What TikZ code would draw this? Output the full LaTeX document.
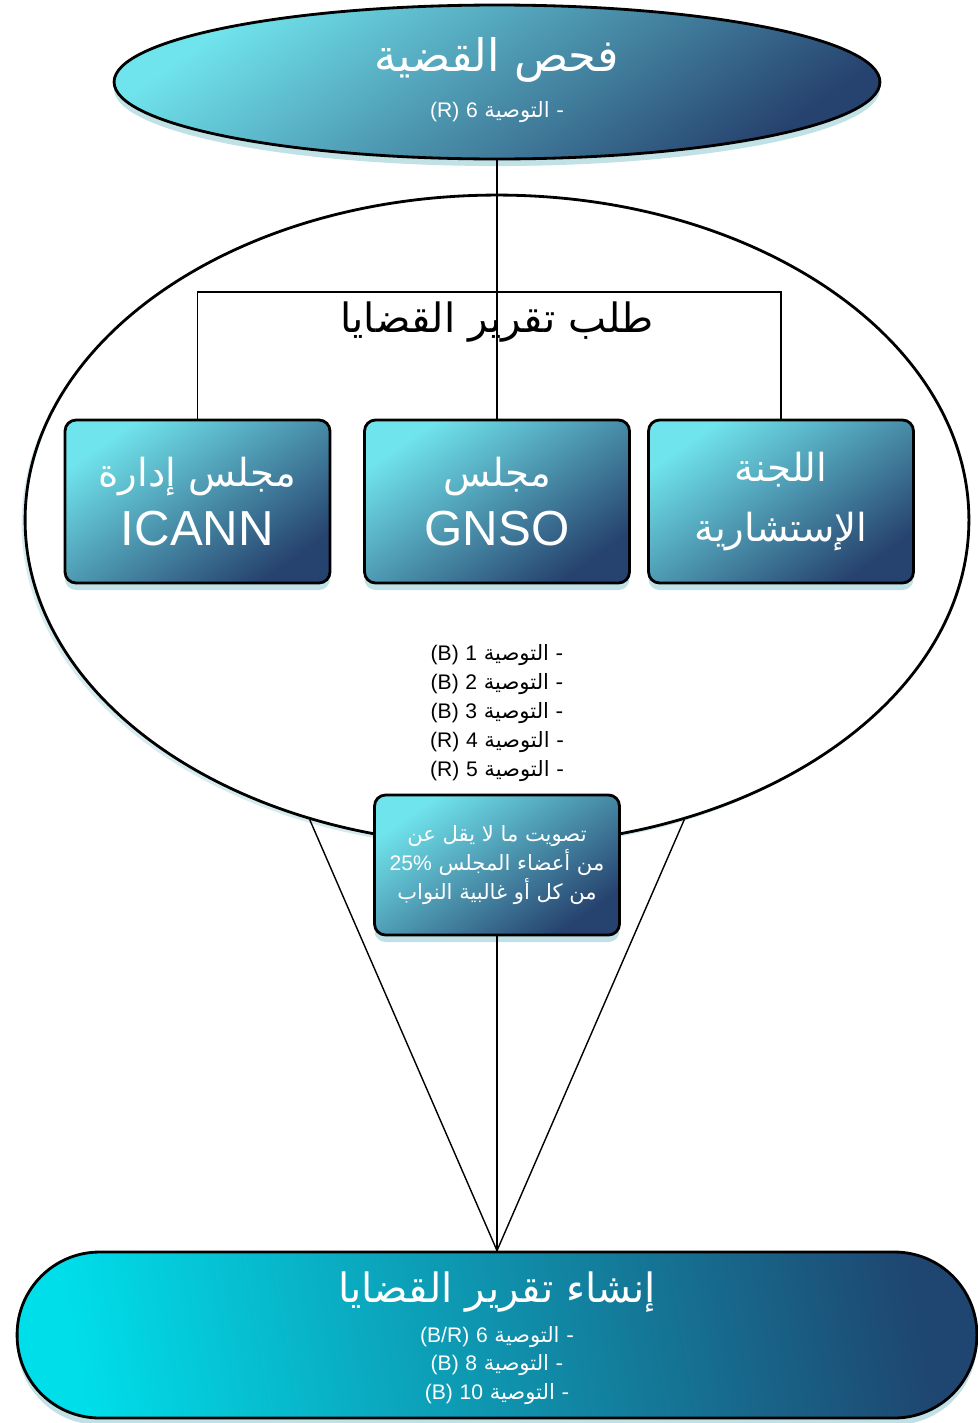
\documentclass[tikz,border=0pt]{standalone}
\usepackage{fontspec}
\setmainfont{Liberation Sans}
\newfontfamily\arabicfont[Script=Arabic]{DejaVu Sans}
\TeXXeTstate=1
\usetikzlibrary{shapes.geometric,shadows}

\definecolor{shapeLight}{RGB}{112,228,236}
\definecolor{shapeDark}{RGB}{38,66,110}
\definecolor{pillLight}{RGB}{0,222,234}
\definecolor{pillDark}{RGB}{30,70,112}
\definecolor{glowTeal}{RGB}{150,205,212}

\newcommand{\lat}[1]{\beginL{\rmfamily #1}\endL}

\tikzset{
  tealshape/.style={draw=black, line width=1.6pt, top color=shapeLight, bottom color=shapeDark, shading angle=35,
    drop shadow={shadow xshift=0pt, shadow yshift=-4pt, fill=glowTeal, opacity=0.6}},
  councilbox/.style={tealshape, rounded corners=0.22cm, minimum width=5.3cm, minimum height=3.26cm,
    text=white, align=center, font=\arabicfont\fontsize{22}{34}\selectfont},
  link/.style={line width=0.8pt},
  bigtitle/.style={font=\arabicfont\fontsize{23}{28}\selectfont},
  smalltext/.style={font=\arabicfont\fontsize{12}{15}\selectfont},
}

\begin{document}
\begin{tikzpicture}[x=0.02cm, y=-0.02cm]
\useasboundingbox (0,0) rectangle (977,1423);

% the big request oval
\node[draw=black, line width=1.6pt, fill=white, ellipse, minimum width=18.88cm, minimum height=13cm,
  drop shadow={shadow xshift=-2pt, shadow yshift=-2pt, fill=glowTeal, opacity=0.4}] (request) at (497,520) {};

% councils
\node[councilbox] (icann) at (197.5,501.5) {\beginR مجلس إدارة\endR\\ \lat{\fontsize{28}{34}\selectfont ICANN}};
\node[councilbox] (gnso) at (497,501.5) {\beginR مجلس\endR\\ \lat{\fontsize{28}{34}\selectfont GNSO}};
\node[councilbox] (advisory) at (781,501.5) {\beginR اللجنة\endR\\ \beginR الإستشارية\endR};

\coordinate (split) at (497,292);
\draw[link] (icann.north) |- (split) -| (advisory.north);
\node[bigtitle, text=black] (requesttitle) at (497,322) {\beginR طلب تقرير القضايا\endR};

% top oval
\node[tealshape, ellipse, minimum width=15.32cm, minimum height=3.08cm] (examine) at (497,82) {};
\node[bigtitle, text=white, font=\arabicfont\fontsize{25.5}{30}\selectfont] (examinetitle) at (497,60) {\beginR فحص القضية\endR};
\node[smalltext, text=white] (examinerec) at (497,112) {\beginR - التوصية \lat{6} \lat{(R)}\endR};
\draw[link] (examine.south) -- (gnso.north);

% recommendations inside the oval
\foreach \n/\t in {1/B,2/B,3/B,4/R,5/R}{
  \node[smalltext, text=black] (rec\n) at (497,626+29*\n) {\beginR - التوصية \lat{\n} \lat{(\t)}\endR};
}

% bottom pill
\node[tealshape, left color=pillLight, right color=pillDark, shading angle=100, rounded corners=1.65cm,
  minimum width=19.2cm, minimum height=3.32cm] (report) at (497,1335) {};
\node[bigtitle, text=white] (reporttitle) at (497,1292) {\beginR إنشاء تقرير القضايا\endR};
\node[smalltext, text=white] (report6) at (497,1337) {\beginR - التوصية \lat{6} \lat{(B/R)}\endR};
\node[smalltext, text=white] (report8) at (497,1365) {\beginR - التوصية \lat{8} \lat{(B)}\endR};
\node[smalltext, text=white] (report10) at (497,1394) {\beginR - التوصية \lat{10} \lat{(B)}\endR};

\draw[link] (request.238) -- (report.north);
\draw[link] (request.302) -- (report.north);

% vote box
\node[tealshape, rounded corners=0.22cm, minimum width=4.9cm, minimum height=2.8cm, text=white, align=center,
  font=\arabicfont\fontsize{12}{16.7}\selectfont] (vote) at (497,865)
  {\beginR تصويت ما لا يقل عن\endR\\ \beginR من أعضاء المجلس \lat{25\%}\endR\\ \beginR من كل أو غالبية النواب\endR};
\draw[link] (vote.south) -- (report.north);

\end{tikzpicture}
\end{document}
